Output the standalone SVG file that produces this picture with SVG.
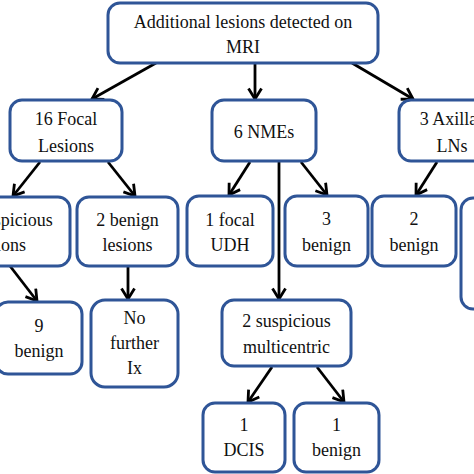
<svg xmlns="http://www.w3.org/2000/svg" width="474" height="474" viewBox="0 0 474 474">
<style>
.box{fill:#fff;stroke:#2f5597;stroke-width:3}
text{font-family:"Liberation Serif","Times New Roman",serif;font-size:18px;fill:#111;text-anchor:middle}
.c line{stroke:#000;stroke-width:2.8;marker-end:url(#ah)}
</style>
<defs>
<marker id="ah" viewBox="0 0 14 16" refX="12" refY="8" markerWidth="14" markerHeight="16" markerUnits="userSpaceOnUse" orient="auto">
<path d="M1.5,1.5 L12,8 L1.5,14.5" fill="none" stroke="#000" stroke-width="2.8"/>
</marker>
</defs>
<rect width="474" height="474" fill="#fff"/>
<g class="c" id="connectors">
<line x1="156" y1="63" x2="92" y2="99"/>
<line x1="255" y1="63" x2="255" y2="99"/>
<line x1="352" y1="63" x2="413" y2="99"/>
<line x1="40" y1="162" x2="13" y2="196"/>
<line x1="108" y1="162" x2="135" y2="196"/>
<line x1="250" y1="162" x2="229" y2="195"/>
<line x1="279" y1="162" x2="279" y2="299"/>
<line x1="301" y1="162" x2="327" y2="195"/>
<line x1="437" y1="162" x2="416" y2="195"/>
<line x1="10" y1="266" x2="37" y2="301"/>
<line x1="128" y1="267" x2="128" y2="299"/>
<line x1="272" y1="367" x2="248" y2="402"/>
<line x1="317" y1="367" x2="344" y2="402"/>
</g>
<g id="n-root"><rect class="box" x="108" y="3" width="270" height="60" rx="12"/><text x="243" y="28">Additional lesions detected on</text><text x="243" y="53">MRI</text></g>
<g id="n-focal"><rect class="box" x="10" y="100" width="112" height="61" rx="12"/><text x="66" y="125">16 Focal</text><text x="66" y="152">Lesions</text></g>
<g id="n-nme"><rect class="box" x="212" y="100" width="104" height="61" rx="12"/><text x="264" y="138">6 NMEs</text></g>
<g id="n-ax"><rect class="box" x="399" y="100" width="110" height="61" rx="12"/><text x="456" y="125">3 Axillary</text><text x="452" y="152">LNs</text></g>
<g id="n-susp"><rect class="box" x="-66" y="197" width="136" height="69" rx="12"/><text x="4" y="226">14 suspicious</text><text x="1" y="251">lesions</text></g>
<g id="n-2ben"><rect class="box" x="77" y="197" width="101" height="69" rx="12"/><text x="127.5" y="226">2 benign</text><text x="127.5" y="251">lesions</text></g>
<g id="n-udh"><rect class="box" x="187" y="196" width="86" height="70" rx="12"/><text x="230" y="226">1 focal</text><text x="230" y="251">UDH</text></g>
<g id="n-3ben"><rect class="box" x="285" y="196" width="83" height="70" rx="12"/><text x="326.5" y="225">3</text><text x="326.5" y="251">benign</text></g>
<g id="n-2benb"><rect class="box" x="372" y="196" width="84" height="70" rx="12"/><text x="414" y="225">2</text><text x="414" y="251">benign</text></g>
<g id="n-right"><rect class="box" x="461" y="198" width="60" height="111" rx="12"/></g>
<g id="n-9ben"><rect class="box" x="-4" y="302" width="86" height="72" rx="12"/><text x="39" y="332">9</text><text x="39" y="357">benign</text></g>
<g id="n-nofx"><rect class="box" x="91" y="300" width="87" height="87" rx="14"/><text x="134.5" y="324">No</text><text x="134.5" y="349">further</text><text x="134.5" y="374">Ix</text></g>
<g id="n-multi"><rect class="box" x="222" y="300" width="129" height="66" rx="12"/><text x="286.5" y="327">2 suspicious</text><text x="286.5" y="353">multicentric</text></g>
<g id="n-dcis"><rect class="box" x="203" y="403" width="82" height="69" rx="12"/><text x="244" y="431">1</text><text x="244" y="456">DCIS</text></g>
<g id="n-1ben"><rect class="box" x="294" y="403" width="85" height="69" rx="12"/><text x="336.5" y="431">1</text><text x="336.5" y="456">benign</text></g>
</svg>
